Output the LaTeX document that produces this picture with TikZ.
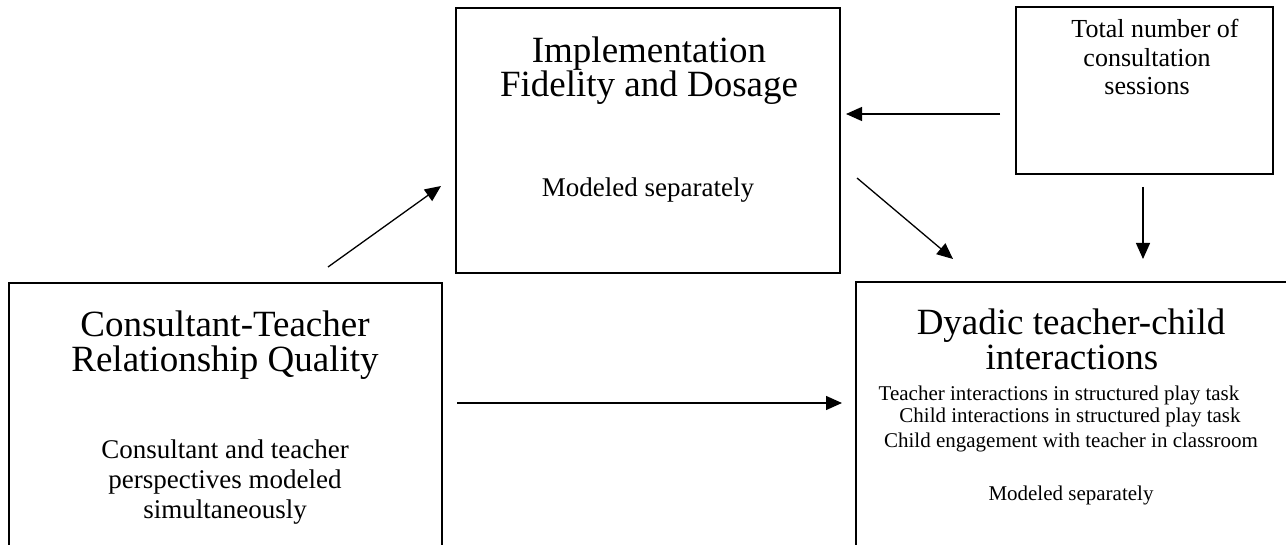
\documentclass[tikz,border=0pt]{standalone}
\usepackage{fontspec}
\setmainfont{Liberation Serif}
\usetikzlibrary{arrows.meta}
\tikzset{
  box/.style={draw=black, line width=2pt, rectangle, inner sep=0pt},
  big/.style={anchor=base, inner sep=0pt, font=\fontsize{37}{37}\selectfont},
  mid/.style={anchor=base, inner sep=0pt, font=\fontsize{27}{27}\selectfont},
  tot/.style={anchor=base, inner sep=0pt, font=\fontsize{26}{26}\selectfont},
  sml/.style={anchor=base, inner sep=0pt, font=\fontsize{21}{21}\selectfont},
  link/.style={line width=1.3pt, -{Triangle[length=16pt,width=14pt]}}
}
\begin{document}
\begin{tikzpicture}[x=1pt,y=-1pt]
\useasboundingbox (0,0) rectangle (1286,545);
\clip (0,0) rectangle (1286,545);
% boxes
\node[box, minimum width=384pt, minimum height=265pt] (impl) at (648,140.5) {};
\node[box, minimum width=257pt, minimum height=167pt] (total) at (1144.5,90.5) {};
\node[box, minimum width=433pt, minimum height=277pt] (cons) at (225.5,421.5) {};
\node[box, minimum width=444pt, minimum height=278pt] (dyad) at (1078,421) {};
% texts
\node[big] (i1) at (649,63) {Implementation};
\node[big] (i2) at (649,97) {Fidelity and Dosage};
\node[mid] (i3) at (648,197) {Modeled separately};
\node[tot] (t1) at (1155,38) {Total number of};
\node[tot] (t2) at (1147,67) {consultation};
\node[tot] (t3) at (1147,95) {sessions};
\node[big] (c1) at (225,337) {Consultant-Teacher};
\node[big] (c2) at (225,372) {Relationship Quality};
\node[mid] (c3) at (225,458) {Consultant and teacher};
\node[mid] (c4) at (225,488) {perspectives modeled};
\node[mid] (c5) at (225,518) {simultaneously};
\node[big] (d1) at (1071,335) {Dyadic teacher-child};
\node[big] (d2) at (1072,370) {interactions};
\node[sml] (d3) at (1059,400) {Teacher interactions in structured play task};
\node[sml] (d4) at (1070,423) {Child interactions in structured play task};
\node[sml] (d5) at (1071,447) {Child engagement with teacher in classroom};
\node[sml] (d6) at (1071,500) {Modeled separately};
% connector end points
\coordinate (a1s) at (328,267);
\coordinate (a1e) at (441,186);
\coordinate (a2s) at (1000,114);
\coordinate (a2e) at (846,114);
\coordinate (a3s) at (857,178);
\coordinate (a3e) at (953,259);
\coordinate (a4s) at (1143,187);
\coordinate (a4e) at (1143,259);
\coordinate (a5s) at (457,403);
\coordinate (a5e) at (842,403);
\draw[link] (a1s) -- (a1e);
\draw[link] (a2s) -- (a2e);
\draw[link] (a3s) -- (a3e);
\draw[link] (a4s) -- (a4e);
\draw[link] (a5s) -- (a5e);
\end{tikzpicture}
\end{document}
